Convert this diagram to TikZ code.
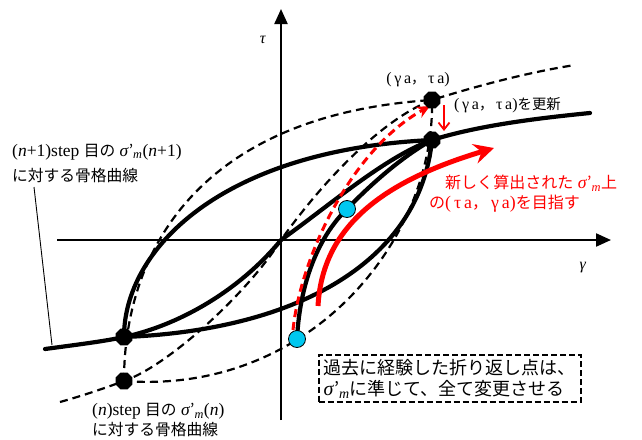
\documentclass[tikz,border=0pt]{standalone}
\usepackage{fontspec}
\setmainfont{Liberation Serif}
\newfontfamily\jp[Scale=0.9]{Noto Sans CJK JP}
\usetikzlibrary{arrows.meta,shapes.geometric}
\definecolor{cyanpt}{RGB}{0,200,240}
\newcommand\J[1]{{\jp #1}}
\newcommand\sgm{\textit{σ}{\jp ’}\textsubscript{\textit{m}}}
\newcommand\ga{(\,γ\,a\J{，}\,τ\,a)}
\newcommand\ag{(\,τ\,a\J{，}\,γ\,a)}
\begin{document}
\begin{tikzpicture}[x=1pt,y=-1pt,
  axis/.style={line width=2.2pt,-{Triangle[length=15pt,width=13pt]}},
  sol/.style={line width=4.2pt,line cap=round,line join=round},
  dsh/.style={line width=2.2pt,dash pattern=on 8pt off 5pt},
  rdsh/.style={red,line width=3pt,dash pattern=on 8pt off 5pt,-{Stealth[length=13pt,width=12pt]}},
  rsol/.style={red,line width=5pt,-{Stealth[length=20pt,width=20pt,inset=7pt]}},
  blk/.style={regular polygon,regular polygon sides=8,fill=black,minimum size=18pt,inner sep=0pt},
  cyn/.style={circle,fill=cyanpt,draw=black,line width=0.8pt,minimum size=17pt,inner sep=0pt},
  lbl/.style={font=\fontsize{17.5}{25}\selectfont,align=left,inner sep=0pt},
  rlbl/.style={font=\fontsize{17.8}{21}\selectfont,text=red,inner sep=0pt},
  boxlbl/.style={draw,line width=2pt,dash pattern=on 6pt off 3pt,font=\fontsize{20}{21}\selectfont,align=left,inner xsep=5pt,inner ysep=4pt}
]
\useasboundingbox (0,0) rectangle (642,439);
% key points
\coordinate (O) at (281,240);
\coordinate (A) at (432,100);
\coordinate (B) at (432,140);
\coordinate (C) at (124,337);
\coordinate (D) at (124,381);
\coordinate (E) at (347,209);
\coordinate (F) at (297,339);
% axes
\coordinate (xl) at (57,240);
\coordinate (xr) at (611,240);
\coordinate (yb) at (281,420);
\coordinate (yt) at (281,9);
\draw[axis] (xl) -- (xr);
\draw[axis] (yb) -- (yt);
\node (tau) at (263,40) {\fontsize{16}{16}\selectfont\textit{τ}};
\node (gam) at (583,268) {\fontsize{16}{16}\selectfont\textit{γ}};
% (n) dashed curves
\draw[dsh] (60,402) .. controls (85,395) and (105,388) .. (D)
  .. controls (170,365) and (250,290) .. (O)
  .. controls (320,185) and (380,120) .. (A)
  .. controls (480,85) and (530,72) .. (575,65);
\draw[dsh] (D) .. controls (124,250) and (200,115) .. (A);
\draw[dsh] (D) .. controls (310,395) and (435,240) .. (A);
% (n+1) solid curves
\draw[sol] (45,349) .. controls (90,343) and (105,341) .. (C)
  .. controls (180,325) and (240,290) .. (O)
  .. controls (330,205) and (385,157) .. (B)
  .. controls (480,125) and (540,118) .. (590,113);
\draw[sol] (C) .. controls (124,250) and (220,150) .. (B);
\draw[sol] (C) .. controls (300,330) and (420,260) .. (B);
\draw[sol] (F) .. controls (300,280) and (320,235) .. (E)
  .. controls (375,180) and (405,155) .. (B);
% red arrows
\draw[rdsh] (293,330) .. controls (300,260) and (350,150) .. (430,106);
\draw[rsol] (318,306) .. controls (322,235) and (370,185) .. (494,148);
\coordinate (ra1) at (444,105);
\coordinate (ra2) at (444,131);
\draw[red,line width=1.8pt,-{Straight Barb[length=7pt,width=11pt]}] (ra1) -- (ra2);
% points
\node[blk] (pA) at (A) {};
\node[blk] (pB) at (B) {};
\node[blk] (pC) at (C) {};
\node[blk] (pD) at (D) {};
\node[cyn] (pE) at (E) {};
\node[cyn] (pF) at (F) {};
% labels
\node[lbl,anchor=west] (ln1) at (12,163) {(\textit{n}+1)step \J{目の} \sgm(\textit{n}+1)\\\J{に対する骨格曲線}};
\coordinate (lt) at (34,187);
\coordinate (lb) at (52,345);
\draw[line width=0.9pt] (lt) -- (lb);
\node[lbl,anchor=west,font=\fontsize{17.5}{20}\selectfont] (ln0) at (92,420) {(\textit{n})step \J{目の} \sgm(\textit{n})\\\J{に対する骨格曲線}};
\node[font=\fontsize{16}{16}\selectfont,inner sep=0pt] (la) at (418,80) {\ga};
\node[font=\fontsize{16}{16}\selectfont,inner sep=0pt,anchor=west] (lb2) at (454,105) {\ga\J{を更新}};
\node[rlbl,anchor=west] (r1) at (445,183) {\J{新しく算出された} \sgm\J{上}};
\node[rlbl,anchor=west] (r2) at (429,204) {\J{の}\ag\J{を目指す}};
\node[boxlbl] (box) at (449.5,378.5) {\J{過去に経験した折り返し点は、}\\\sgm\J{に準じて、全て変更させる}};
\end{tikzpicture}
\end{document}
